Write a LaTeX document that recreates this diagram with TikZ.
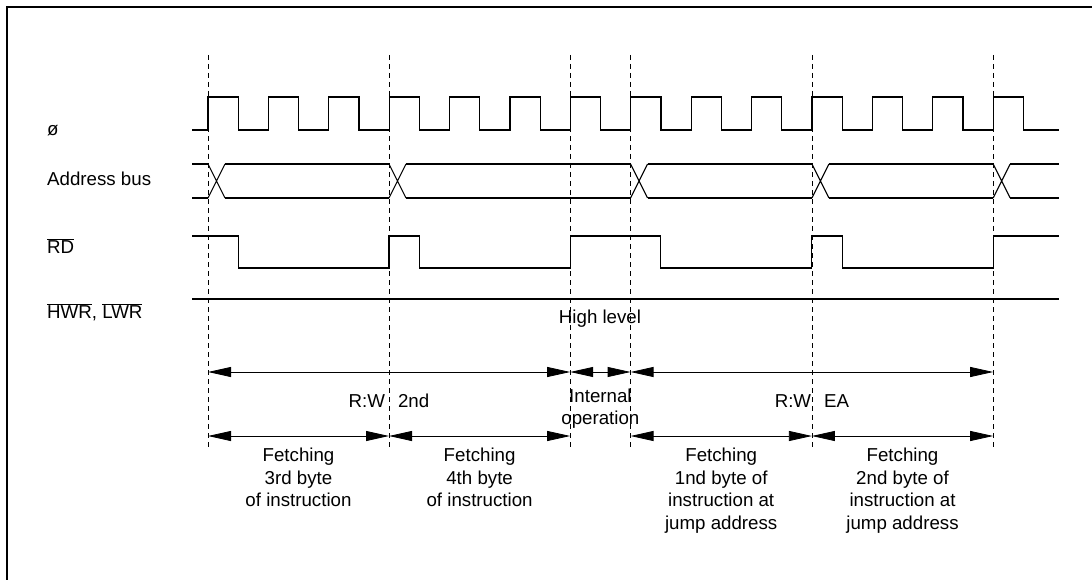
\documentclass[tikz,border=0pt]{standalone}
\usepackage{fontspec}
\setmainfont{Liberation Sans}
\usetikzlibrary{arrows.meta}
\begin{document}
\begin{tikzpicture}[x=1pt,y=-1pt,
  wave/.style={line width=1.1pt,line join=miter},
  guide/.style={line width=0.8pt,dash pattern=on 5pt off 4pt},
  span/.style={line width=0.8pt,{Triangle[length=23pt,width=10pt]}-{Triangle[length=23pt,width=10pt]}},
  lbl/.style={font=\fontsize{18.7}{22.6}\selectfont,inner sep=0pt},
  ctr/.style={lbl,align=center},
  frame/.style={line width=1.4pt}]
\useasboundingbox (0,0) rectangle (1092,580);
\def\P{60.4}\def\h{30.2}
% frame
\draw[frame] (7,580) -- (7,7) -- (1092,7);
% time marks
\foreach \n/\t in {0/208,1/389,2/570.2,3/630.6,4/811.9,5/993.2}{
  \coordinate (top\n) at (\t,55);
  \coordinate (bot\n) at (\t,448);
  \coordinate (a\n) at (\t,372);
  \coordinate (b\n) at (\t,436);
  \draw[guide] (top\n) -- (bot\n);
}
% labels
\node[lbl,anchor=west] (lphi) at (47,130.5) {ø};
\node[lbl,anchor=west] (laddr) at (47,179) {Address bus};
\node[lbl,anchor=west] (lrd) at (47,246) {$\overline{\hbox{RD}}$};
\node[lbl,anchor=west] (lwr) at (47,312.5) {$\overline{\hbox{HWR}}$, $\overline{\hbox{LWR}}$};
% clock
\draw[wave] (192,130) foreach \i in {0,...,13}{ -- ({208+\i*\P},130) -- ({208+\i*\P},97) -- ({208+\i*\P+\h},97) -- ({208+\i*\P+\h},130) } -- (1059,130);
% address bus
\draw[wave] (192,164) -- (208,164) (192,198) -- (208,198);
\foreach \s/\e in {208/389,389/630.6,630.6/811.9,811.9/993.2,993.2/1059}{
  \draw[wave] (\s,164) -- ({\s+17},198) (\s,198) -- ({\s+17},164);
  \draw[wave] ({\s+17},164) -- (\e,164) ({\s+17},198) -- (\e,198);
}
% RD
\draw[wave] (192,236) -- (238.2,236) -- (238.2,268) -- (389,268) -- (389,236) -- (419.2,236) -- (419.2,268) -- (570.2,268) -- (570.2,236) -- (660.8,236) -- (660.8,268) -- (811.9,268) -- (811.9,236) -- (842.1,236) -- (842.1,268) -- (993.2,268) -- (993.2,236) -- (1059,236);
% HWR, LWR
\draw[wave] (192,299) -- (1059,299);
\node[lbl] (high) at (600,319) {High level};
% spans
\draw[span] (a0) -- (a2);
\draw[span] (a2) -- (a3);
\draw[span] (a3) -- (a5);
\draw[span] (b0) -- (b1);
\draw[span] (b1) -- (b2);
\draw[span] (b3) -- (b4);
\draw[span] (b4) -- (b5);
\node[lbl] (rw1) at (389,401) {R:W\hspace{13pt}2nd};
\node[lbl] (rw2) at (811.9,401) {R:W\hspace{13pt}EA};
\node[ctr,anchor=north] (intop) at (600.4,388.5) {Internal\\operation};
\node[ctr,anchor=north] (f1) at (298.5,448) {Fetching\\3rd byte\\of instruction};
\node[ctr,anchor=north] (f2) at (479.6,448) {Fetching\\4th byte\\of instruction};
\node[ctr,anchor=north] (f3) at (721.2,448) {Fetching\\1nd byte of\\instruction at\\jump address};
\node[ctr,anchor=north] (f4) at (902.5,448) {Fetching\\2nd byte of\\instruction at\\jump address};
\end{tikzpicture}
\end{document}
